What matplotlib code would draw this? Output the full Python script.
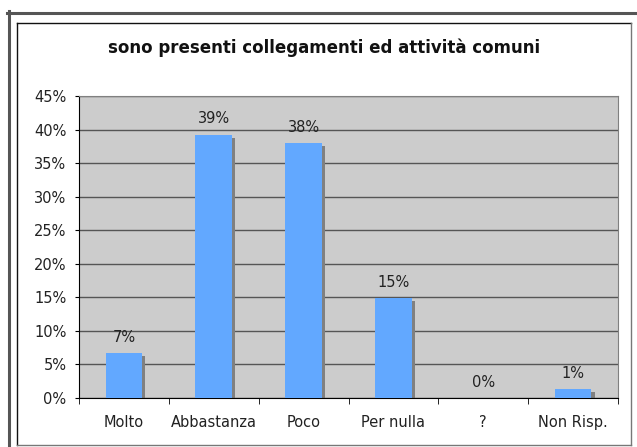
import matplotlib
matplotlib.use("Agg")
from matplotlib import pyplot as plt
from matplotlib.lines import Line2D

categories = ["Molto", "Abbastanza", "Poco", "Per nulla", "?", "Non Risp."]
values = [6.7, 39.2, 38.0, 14.9, 0.0, 1.3]
labels = ["7%", "39%", "38%", "15%", "0%", "1%"]
yticks = [0, 5, 10, 15, 20, 25, 30, 35, 40, 45]

W, H = 637, 447
fig = plt.figure(figsize=(W / 100, H / 100), dpi=100)
fig.patch.set_facecolor("white")

def px(x, y):
    return x / W, 1 - y / H

# outer frame (thick, only top and left visible)
fig.add_artist(Line2D([px(8.5, 0)[0], px(8.5, 0)[0]], [px(0, 11)[1], 0],
                      color="#555555", lw=2.2, transform=fig.transFigure))
fig.add_artist(Line2D([px(7, 0)[0], 1], [px(0, 12.5)[1], px(0, 12.5)[1]],
                      color="#555555", lw=2.2, transform=fig.transFigure))
# inner chart box
x0, y0, x1, y1 = 17, 22.5, 631, 445
for xs, ys, c in [((x0, x1), (y0, y0), "#111111"), ((x0, x0), (y0, y1), "#111111"),
                  ((x1, x1), (y0, y1), "#777777"), ((x0, x1), (y1, y1), "#777777")]:
    fig.add_artist(Line2D([px(xs[0], 0)[0], px(xs[1], 0)[0]],
                          [px(0, ys[0])[1], px(0, ys[1])[1]],
                          color=c, lw=1, transform=fig.transFigure))

left, right, top, bottom = 79, 618, 96, 398
ax = fig.add_axes([left / W, 1 - bottom / H, (right - left) / W, (bottom - top) / H])
ax.set_facecolor("#cccccc")

xs = list(range(len(categories)))
bw = 0.41
shadow = [max(v - 0.45, 0) for v in values]
ax.bar([x + 0.035 for x in xs], shadow, width=bw, color="#808080", zorder=2)
ax.bar(xs, values, width=bw, color="#62a8ff", zorder=3)

for x, v, lab in zip(xs, values, labels):
    ax.annotate(lab, (x, v), xytext=(0, 11.5), textcoords="offset points",
                ha="center", va="center", fontsize=10.5, color="#222222")

ax.set_xlim(-0.5, len(categories) - 0.5)
ax.set_ylim(0, 45)
ax.set_yticks(yticks)
ax.set_yticklabels([f"{t}%" for t in yticks])
ax.yaxis.grid(True, color="#555555", lw=1)
ax.set_axisbelow(True)

ax.set_xticks(xs)
ax.set_xticklabels(categories)
ax.set_xticks([x - 0.5 for x in xs] + [len(categories) - 0.5], minor=True)
ax.tick_params(axis="x", which="major", length=0, pad=12, labelsize=10.5, labelcolor="#222222")
ax.tick_params(axis="x", which="minor", length=4, direction="out", color="black")
ax.tick_params(axis="y", length=3, direction="out", pad=6, labelsize=10.5, labelcolor="#222222")

for s in ["top", "right"]:
    ax.spines[s].set_color("#808080")
for s in ["left", "bottom"]:
    ax.spines[s].set_color("black")

fig.text(px(324, 0)[0], px(0, 48)[1], "sono presenti collegamenti ed attività comuni",
         ha="center", va="center", fontsize=12, fontweight="bold", color="#111111")

fig.savefig("out.png", dpi=100)
